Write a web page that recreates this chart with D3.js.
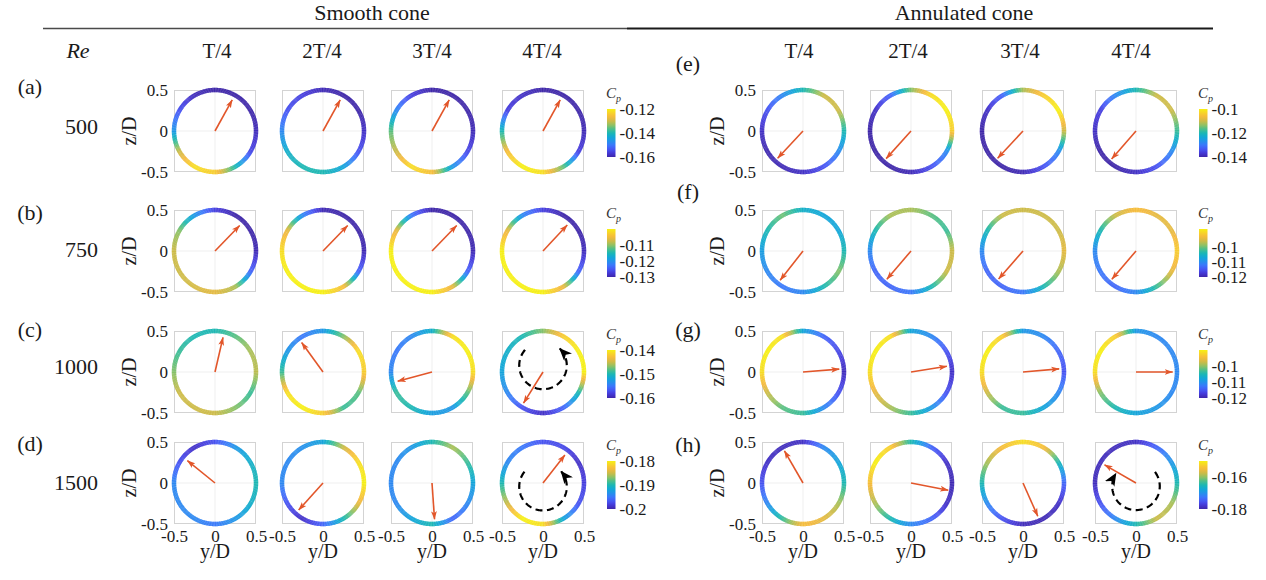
<!DOCTYPE html>
<html>
<head>
<meta charset="utf-8">
<script src="https://cdn.jsdelivr.net/npm/d3@7"></script>
<style>
  body { margin: 0; background: #ffffff; }
  svg { display: block; }
</style>
</head>
<body>
<svg id="fig" width="1266" height="580"></svg>
<script>
// ---------------------------------------------------------------
// Data
// ---------------------------------------------------------------
// Angular stations around the cone section, degrees counter-clockwise from +y
const sampleAngles = [0, 30, 60, 90, 120, 150, 180, 210, 240, 270, 300, 330];
const phases = ["T/4", "2T/4", "3T/4", "4T/4"];
const reynolds = ["500", "750", "1000", "1500"];
const smoothTags = ["(a)", "(b)", "(c)", "(d)"];
const annulTags = ["(e)", "(f)", "(g)", "(h)"];

// Smooth cone: Cp at each station, one row per phase
const cpSmooth500 = [
  [-0.1588, -0.16, -0.16, -0.16, -0.1588, -0.154, -0.146, -0.13, -0.122, -0.124, -0.14, -0.1552],
  [-0.158, -0.16, -0.16, -0.159, -0.156, -0.154, -0.148, -0.142, -0.14, -0.14, -0.144, -0.154],
  [-0.159, -0.16, -0.16, -0.16, -0.156, -0.148, -0.136, -0.13, -0.122, -0.126, -0.146, -0.155],
  [-0.159, -0.16, -0.16, -0.16, -0.158, -0.156, -0.14, -0.126, -0.12, -0.122, -0.136, -0.156]
];
const cpSmooth750 = [
  [-0.1294, -0.13, -0.13, -0.127, -0.1195, -0.1105, -0.1075, -0.1075, -0.107, -0.106, -0.109, -0.124],
  [-0.1294, -0.13, -0.13, -0.1294, -0.121, -0.106, -0.1015, -0.1, -0.1, -0.1, -0.1045, -0.124],
  [-0.1294, -0.13, -0.13, -0.13, -0.1225, -0.106, -0.1, -0.1, -0.1, -0.1, -0.106, -0.124],
  [-0.129, -0.13, -0.13, -0.127, -0.121, -0.106, -0.1, -0.1, -0.1, -0.1, -0.106, -0.124]
];
const cpSmooth1000 = [
  [-0.1455, -0.146, -0.148, -0.15, -0.15, -0.149, -0.147, -0.145, -0.145, -0.145, -0.147, -0.149],
  [-0.142, -0.141, -0.147, -0.153, -0.155, -0.153, -0.149, -0.141, -0.14, -0.142, -0.149, -0.148],
  [-0.141, -0.14, -0.141, -0.151, -0.154, -0.155, -0.154, -0.149, -0.15, -0.1525, -0.153, -0.148],
  [-0.14, -0.14, -0.142, -0.147, -0.15, -0.151, -0.152, -0.154, -0.157, -0.159, -0.156, -0.15]
];
const cpSmooth1500 = [
  [-0.19, -0.191, -0.193, -0.197, -0.199, -0.197, -0.194, -0.194, -0.194, -0.195, -0.193, -0.191],
  [-0.18, -0.181, -0.185, -0.192, -0.1935, -0.194, -0.194, -0.197, -0.199, -0.196, -0.19, -0.184],
  [-0.192, -0.189, -0.186, -0.19, -0.193, -0.194, -0.194, -0.194, -0.192, -0.19, -0.196, -0.194],
  [-0.198, -0.199, -0.1975, -0.197, -0.195, -0.194, -0.19, -0.185, -0.18, -0.181, -0.192, -0.197]
];

// Annulated cone: Cp at each station, one row per phase
const cpAnnul500 = [
  [-0.12, -0.11, -0.11, -0.12, -0.128, -0.134, -0.138, -0.1395, -0.139, -0.138, -0.134, -0.128],
  [-0.104, -0.1, -0.102, -0.114, -0.132, -0.138, -0.14, -0.14, -0.14, -0.139, -0.134, -0.128],
  [-0.11, -0.1, -0.104, -0.112, -0.132, -0.138, -0.14, -0.14, -0.14, -0.139, -0.134, -0.128],
  [-0.118, -0.11, -0.11, -0.12, -0.128, -0.136, -0.138, -0.14, -0.14, -0.138, -0.134, -0.128]
];
const cpAnnul750 = [
  [-0.104, -0.107, -0.107, -0.1056, -0.1, -0.104, -0.108, -0.1104, -0.112, -0.1104, -0.104, -0.0992],
  [-0.096, -0.1024, -0.1008, -0.0976, -0.0976, -0.104, -0.1104, -0.1136, -0.1136, -0.112, -0.104, -0.096],
  [-0.0944, -0.096, -0.096, -0.096, -0.096, -0.104, -0.1104, -0.1136, -0.1136, -0.112, -0.104, -0.0976],
  [-0.0912, -0.0944, -0.0944, -0.0928, -0.096, -0.104, -0.1104, -0.112, -0.1136, -0.1104, -0.1024, -0.0944]
];
const cpAnnul1000 = [
  [-0.119, -0.1164, -0.114, -0.108, -0.0915, -0.09, -0.0915, -0.0975, -0.102, -0.1035, -0.111, -0.1155],
  [-0.1185, -0.1155, -0.111, -0.108, -0.0915, -0.09, -0.0915, -0.096, -0.099, -0.1035, -0.1095, -0.1155],
  [-0.1155, -0.114, -0.111, -0.1095, -0.093, -0.09, -0.0915, -0.0975, -0.1035, -0.1035, -0.108, -0.111],
  [-0.111, -0.111, -0.111, -0.1095, -0.093, -0.09, -0.0915, -0.1005, -0.105, -0.108, -0.1095, -0.111]
];
const cpAnnul1500 = [
  [-0.165, -0.168, -0.171, -0.1785, -0.179, -0.1785, -0.1755, -0.171, -0.1635, -0.1545, -0.156, -0.159],
  [-0.1794, -0.1785, -0.174, -0.165, -0.153, -0.15, -0.1545, -0.159, -0.165, -0.171, -0.174, -0.1785],
  [-0.174, -0.165, -0.1545, -0.1515, -0.1545, -0.159, -0.165, -0.171, -0.1755, -0.179, -0.1794, -0.1785],
  [-0.165, -0.1695, -0.174, -0.1785, -0.179, -0.179, -0.179, -0.1755, -0.171, -0.165, -0.1575, -0.159]
];

// Resultant force direction (deg, CCW from +y) and magnitude (in D) per Re row and phase
const arrowAngleSmooth = [[61, 61, 61, 61], [46, 46, 46, 47], [77, 126, 195, 238], [141, 228, 274, 52]];
const arrowLenSmooth = [[0.44, 0.44, 0.44, 0.44], [0.44, 0.44, 0.44, 0.44], [0.44, 0.45, 0.44, 0.455], [0.44, 0.45, 0.45, 0.44]];
const arrowAngleAnnul = [[227, 228, 227, 229], [232, 229.5, 229, 229.5], [4.5, 9, 5, 0], [120, 349, 294, 150]];
const arrowLenAnnul = [[0.46, 0.46, 0.46, 0.46], [0.46, 0.46, 0.46, 0.46], [0.45, 0.45, 0.45, 0.455], [0.46, 0.47, 0.45, 0.45]];

// Colour-bar limits and tick labels per Re row
const cbDomainSmooth = [[-0.16, -0.12], [-0.13, -0.10], [-0.16, -0.14], [-0.2, -0.18]];
const cbTicksSmooth = [[-0.12, -0.14, -0.16], [-0.11, -0.12, -0.13], [-0.14, -0.15, -0.16], [-0.18, -0.19, -0.2]];
const cbDomainAnnul = [[-0.14, -0.10], [-0.12, -0.088], [-0.12, -0.09], [-0.18, -0.15]];
const cbTicksAnnul = [[-0.1, -0.12, -0.14], [-0.1, -0.11, -0.12], [-0.1, -0.11, -0.12], [-0.16, -0.18]];

// Swirl annotations: panel, circle centre/radius (D), start and end angle (deg)
const swirls = [
  { cone: "smooth", row: 2, col: 3, cx: 0, cy: 0.08, r: 0.29, from: 139, to: 405 },
  { cone: "smooth", row: 3, col: 3, cx: 0, cy: -0.045, r: 0.29, from: 141, to: 400 },
  { cone: "annul", row: 3, col: 3, cx: 0, cy: -0.04, r: 0.29, from: 37, to: -212 }
];

const axisTicks = [-0.5, 0, 0.5];

// ---------------------------------------------------------------
// Layout and styling
// ---------------------------------------------------------------
const FONT = "Liberation Serif";
const P = 82;                                   // panel size in px
const rowTops = [90, 210, 331, 442];
const smoothLefts = [174, 282, 391, 502];
const annulLefts = [762, 870, 982, 1095];
const smoothPhaseX = [217, 322, 432, 542];
const annulPhaseX = [799, 908, 1020, 1131];
const smoothTagY = [94, 220, 337, 451];
const reY = [134, 257, 374, 490];
const annulTagY = [71, 199, 337, 452];
const cbSmoothX = 607, cbAnnulX = 1199, cbW = 8.5, cbH = 48;
const ARROW = "#e2562a";
const TXT = "#1a1a1a";

// Parula-like colour map
const parulaStops = ["#3e26a8", "#4538d8", "#4658f6", "#3a78fb", "#2393ea", "#10a8d6",
                     "#1cb7b3", "#4cbf89", "#93c162", "#cdbb47", "#f5b93c", "#f8d22c", "#f6f014"];
const parula = d3.piecewise(d3.interpolateRgb, parulaStops);

const cpSmooth = [cpSmooth500, cpSmooth750, cpSmooth1000, cpSmooth1500];
const cpAnnul = [cpAnnul500, cpAnnul750, cpAnnul1000, cpAnnul1500];

const svg = d3.select("#fig");
const defs = svg.append("defs");

// colour-bar gradient
const grad = defs.append("linearGradient").attr("id", "parulaGrad")
  .attr("x1", 0).attr("y1", 1).attr("x2", 0).attr("y2", 0);
d3.range(0, 1.0001, 0.05).forEach(t => {
  grad.append("stop").attr("offset", t).attr("stop-color", parula(t));
});

// arrow heads
defs.append("marker").attr("id", "headOrange")
  .attr("markerUnits", "userSpaceOnUse").attr("viewBox", "0 0 10 8")
  .attr("refX", 9.5).attr("refY", 4).attr("markerWidth", 8.5).attr("markerHeight", 7)
  .attr("orient", "auto")
  .append("path").attr("d", "M0,0.6 L10,4 L0,7.4 L2.4,4 Z").attr("fill", ARROW);
defs.append("marker").attr("id", "headBlack")
  .attr("markerUnits", "userSpaceOnUse").attr("viewBox", "0 0 13 11")
  .attr("refX", 12).attr("refY", 5.5).attr("markerWidth", 13).attr("markerHeight", 11)
  .attr("orient", "auto")
  .append("path").attr("d", "M0,0 L13,5.5 L0,11 L3.5,5.5 Z").attr("fill", "#000");

// Cp at an arbitrary angle, linear between neighbouring stations (periodic)
function cpAt(vals, deg) {
  const a = ((deg % 360) + 360) % 360;
  const i = Math.floor(a / 30);
  const f = (a - i * 30) / 30;
  return vals[i] * (1 - f) + vals[(i + 1) % vals.length] * f;
}

function panelScales(left, top) {
  const x = d3.scaleLinear().domain([-0.5, 0.5]).range([left, left + P]);
  const y = d3.scaleLinear().domain([-0.5, 0.5]).range([top + P, top]);
  return { x, y };
}

function styleAxis(ax) {
  ax.select(".domain").remove();
  ax.attr("font-family", FONT).attr("font-size", 17);
  ax.selectAll("text").attr("fill", TXT);
}

function addText(x, y, str, size, opts = {}) {
  const t = svg.append("text").attr("x", x).attr("y", y)
    .attr("text-anchor", opts.anchor || "middle")
    .attr("font-size", size)
    .attr("fill", opts.fill || TXT).text(str);
  if (opts.italic) t.attr("font-style", "italic");
  return t;
}

function drawPanel(left, top, vals, domain, angle, len, showY, showX) {
  const { x, y } = panelScales(left, top);
  const g = svg.append("g");
  const color = d3.scaleSequential(parula).domain(domain).clamp(true);

  // frame and zero grid lines
  g.append("rect").attr("x", x(-0.5) + 0.5).attr("y", y(0.5) + 0.5)
    .attr("width", x(0.5) - x(-0.5) - 1).attr("height", y(-0.5) - y(0.5) - 1)
    .attr("fill", "none").attr("stroke", "#d3d3d3").attr("stroke-width", 1);
  g.append("line").attr("x1", x(0)).attr("x2", x(0)).attr("y1", y(-0.5)).attr("y2", y(0.5))
    .attr("stroke", "#efefef").attr("stroke-width", 1);
  g.append("line").attr("x1", x(-0.5)).attr("x2", x(0.5)).attr("y1", y(0)).attr("y2", y(0))
    .attr("stroke", "#efefef").attr("stroke-width", 1);

  // coloured ring (radius 0.5 D)
  const R = x(0.5) - x(0);
  const arc = d3.arc().innerRadius(R - 2.2).outerRadius(R + 2.2);
  const ring = g.append("g").attr("transform", `translate(${x(0)},${y(0)})`);
  const step = 1;
  d3.range(0, 360, step).forEach(d => {
    const a0 = (90 - d - step - 0.35) * Math.PI / 180;
    const a1 = (90 - d) * Math.PI / 180;
    ring.append("path")
      .attr("d", arc({ startAngle: a0, endAngle: a1 }))
      .attr("fill", color(cpAt(vals, d + step / 2)));
  });

  // resultant force arrow
  const th = angle * Math.PI / 180;
  g.append("line")
    .attr("x1", x(0)).attr("y1", y(0))
    .attr("x2", x(len * Math.cos(th) * 0.985)).attr("y2", y(len * Math.sin(th) * 0.985))
    .attr("stroke", ARROW).attr("stroke-width", 1.6)
    .attr("marker-end", "url(#headOrange)");

  if (showY) {
    const ax = g.append("g").attr("transform", `translate(${x(-0.5) - 1},0)`)
      .call(d3.axisLeft(y).tickValues(axisTicks).tickSize(0).tickPadding(5).tickFormat(d => String(d)));
    styleAxis(ax);
    svg.append("text")
      .attr("transform", `translate(${x(-0.5) - 38},${y(0)}) rotate(-90)`)
      .attr("text-anchor", "middle").attr("font-size", 20).attr("fill", TXT)
      .text("z/D");
  }
  if (showX) {
    const ax = g.append("g").attr("transform", `translate(0,${y(-0.5) + 1})`)
      .call(d3.axisBottom(x).tickValues(axisTicks).tickSize(0).tickPadding(5).tickFormat(d => String(d)));
    styleAxis(ax);
    addText(x(0), 558, "y/D", 20);
  }
  return { x, y };
}

function drawColorbar(cx, top, domain, ticks) {
  const s = d3.scaleLinear().domain(domain).range([top + cbH, top]);
  svg.append("rect").attr("x", cx).attr("y", top).attr("width", cbW).attr("height", cbH)
    .attr("fill", "url(#parulaGrad)");
  const ax = svg.append("g").attr("transform", `translate(${cx + cbW},0)`)
    .call(d3.axisRight(s).tickValues(ticks).tickSize(0).tickPadding(4).tickFormat(d => String(d)));
  styleAxis(ax);
  const lab = svg.append("text").attr("x", cx - 1).attr("y", top - 11)
    .attr("font-size", 15).attr("font-style", "italic").attr("fill", "#333");
  lab.append("tspan").text("C");
  lab.append("tspan").attr("dy", 3.5).attr("font-size", 10).text("p");
}

// ---------------------------------------------------------------
// Headers
// ---------------------------------------------------------------
addText(372, 20, "Smooth cone", 22);
addText(964, 20, "Annulated cone", 22);
svg.append("line").attr("x1", 43).attr("x2", 627).attr("y1", 28.5).attr("y2", 28.5)
  .attr("stroke", "#4a4a4a").attr("stroke-width", 1.6);
svg.append("line").attr("x1", 627).attr("x2", 1213).attr("y1", 28.5).attr("y2", 28.5)
  .attr("stroke", "#1a1a1a").attr("stroke-width", 2.2);

addText(78, 58, "Re", 22, { italic: true });
phases.forEach((p, i) => {
  addText(smoothPhaseX[i], 58, p, 21);
  addText(annulPhaseX[i], 58, p, 21);
});

// ---------------------------------------------------------------
// Panels
// ---------------------------------------------------------------
const panelScaleMap = {};
reynolds.forEach((re, r) => {
  addText(30, smoothTagY[r], smoothTags[r], 22);
  addText(98, reY[r], re, 22, { anchor: "end" });
  addText(688, annulTagY[r], annulTags[r], 22);

  phases.forEach((p, c) => {
    panelScaleMap[`smooth-${r}-${c}`] = drawPanel(smoothLefts[c], rowTops[r], cpSmooth[r][c], cbDomainSmooth[r],
      arrowAngleSmooth[r][c], arrowLenSmooth[r][c], c === 0, r === 3);
    panelScaleMap[`annul-${r}-${c}`] = drawPanel(annulLefts[c], rowTops[r], cpAnnul[r][c], cbDomainAnnul[r],
      arrowAngleAnnul[r][c], arrowLenAnnul[r][c], c === 0, r === 3);
  });

  drawColorbar(cbSmoothX, rowTops[r] + 19, cbDomainSmooth[r], cbTicksSmooth[r]);
  drawColorbar(cbAnnulX, rowTops[r] + 19, cbDomainAnnul[r], cbTicksAnnul[r]);
});

// ---------------------------------------------------------------
// Swirl direction annotations (dashed arcs with heads)
// ---------------------------------------------------------------
swirls.forEach(s => {
  const { x, y } = panelScaleMap[`${s.cone}-${s.row}-${s.col}`];
  const n = 120;
  const pts = d3.range(n + 1).map(i => {
    const a = (s.from + (s.to - s.from) * i / n) * Math.PI / 180;
    return [s.cx + s.r * Math.cos(a), s.cy + s.r * Math.sin(a)];
  });
  svg.append("path")
    .attr("d", d3.line().x(d => x(d[0])).y(d => y(d[1]))(pts))
    .attr("fill", "none").attr("stroke", "#000").attr("stroke-width", 2.2)
    .attr("stroke-dasharray", "7,4.5")
    .attr("marker-end", "url(#headBlack)");
});

// serif face for every label
svg.selectAll("text").attr("font-family", FONT).style("font-family", FONT);
</script>
</body>
</html>
